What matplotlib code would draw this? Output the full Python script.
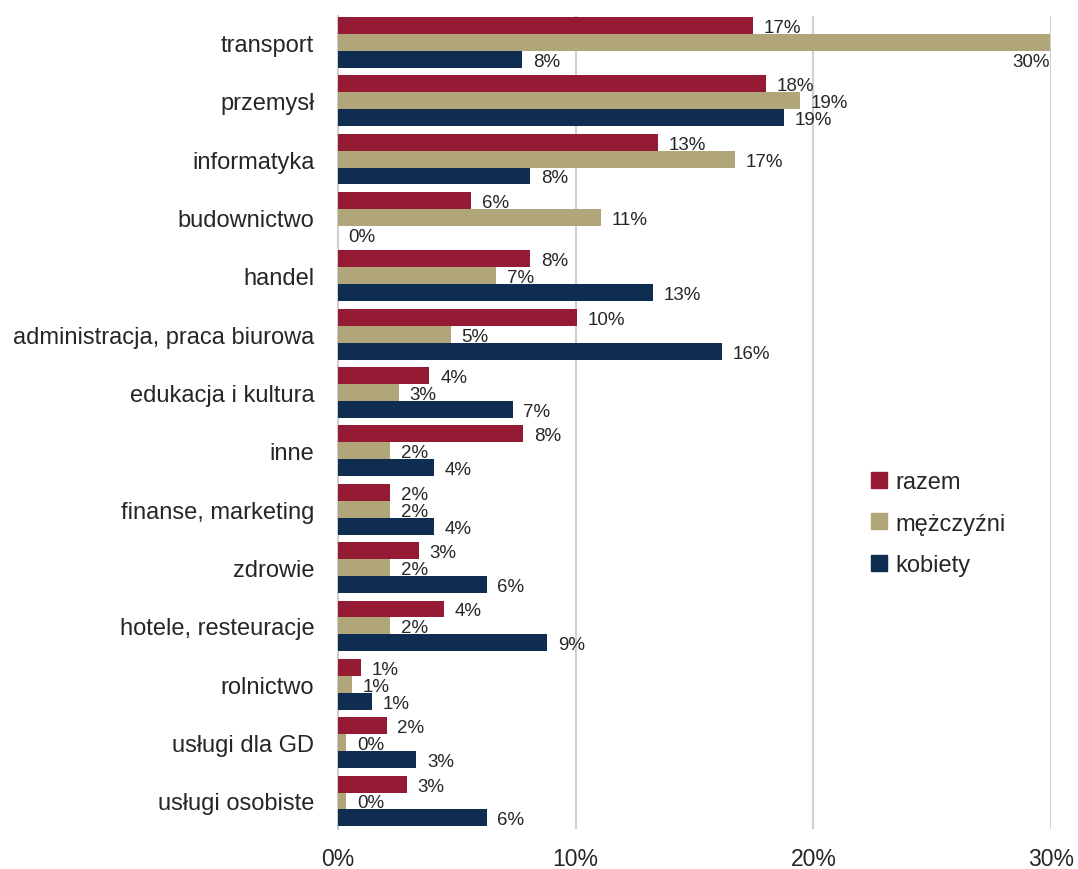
import matplotlib.pyplot as plt
from matplotlib.lines import Line2D
import numpy as np

plt.rcParams['font.family'] = ['Liberation Sans', 'DejaVu Sans']

categories = ['transport', 'przemysł', 'informatyka', 'budownictwo', 'handel',
              'administracja, praca biurowa', 'edukacja i kultura', 'inne',
              'finanse, marketing', 'zdrowie', 'hotele, resteuracje', 'rolnictwo',
              'usługi dla GD', 'usługi osobiste']
razem = [17.45, 18.0, 13.45, 5.6, 8.1, 10.05, 3.85, 7.8, 2.2, 3.4, 4.45, 0.95, 2.05, 2.9]
mezczyzni = [29.95, 19.45, 16.7, 11.05, 6.65, 4.75, 2.55, 2.2, 2.2, 2.2, 2.2, 0.6, 0.35, 0.35]
kobiety = [7.75, 18.75, 8.1, 0.0, 13.25, 16.15, 7.35, 4.05, 4.05, 6.25, 8.8, 1.45, 3.3, 6.25]
series = [('razem', razem, '#951B35'),
          ('mężczyźni', mezczyzni, '#B1A57A'),
          ('kobiety', kobiety, '#0F2D50')]

fig = plt.figure(figsize=(10.78, 8.70), dpi=100)
ax = fig.add_axes([0.3135, 0.046, 0.6615, 0.934])

y = np.arange(len(categories))
h = 0.29
txt = '#262626'
for i, (name, vals, col) in enumerate(series):
    pos = y + (i - 1) * h
    ax.barh(pos, vals, height=h, color=col, label=name, zorder=3)
    for p, v in zip(pos, vals):
        lab = f'{round(v):.0f}%'
        if v > 28:
            ax.text(v, p + h, lab, ha='right', va='center_baseline', fontsize=13.5, color=txt)
        else:
            ax.text(v + 0.45, p, lab, ha='left', va='center_baseline', fontsize=13.5, color=txt)

ax.set_xlim(0, 30)
ax.set_ylim(13.48, -0.445)
ax.set_yticks(y)
ax.set_yticklabels(categories, fontsize=17, color=txt)
ax.set_xticks([0, 10, 20, 30])
ax.set_xticklabels(['0%', '10%', '20%', '30%'], fontsize=16.5, color=txt)
ax.tick_params(length=0)
ax.tick_params(axis='x', pad=13)
ax.tick_params(axis='y', pad=17)
ax.grid(axis='x', color='#D0D0D0', linewidth=1.5, zorder=0)
for s in ['top', 'right', 'bottom']:
    ax.spines[s].set_visible(False)
ax.spines['left'].set_color('#D0D0D0')
ax.spines['left'].set_linewidth(1.5)

handles = [Line2D([], [], marker='s', linestyle='', markersize=11, color=c) for _, _, c in series]
fig.legend(handles, [s[0] for s in series], loc='center left', bbox_to_anchor=(0.785, 0.397),
           frameon=False, fontsize=17, labelspacing=0.84, handletextpad=0.2,
           handlelength=1.0, labelcolor=txt)

fig.savefig('out.png', dpi=100)
